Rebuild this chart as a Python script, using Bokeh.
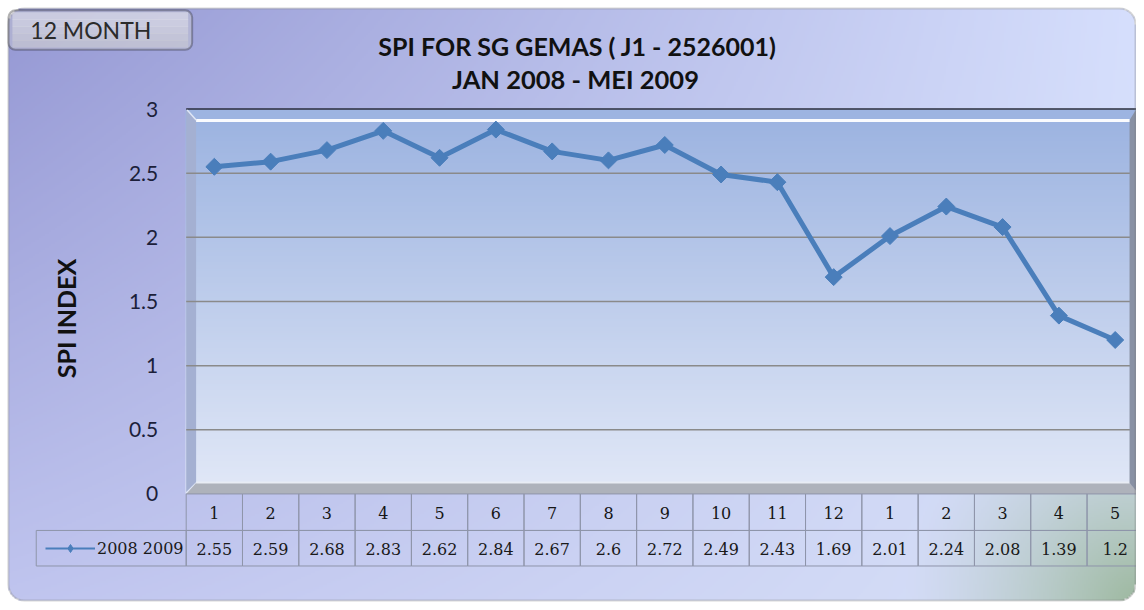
import numpy as np
from bokeh.plotting import figure
from bokeh.models import (Range1d, FixedTicker, BoxAnnotation, Label, Legend,
                          LegendItem, PrintfTickFormatter, ColumnDataSource)
from bokeh.core.properties import value
from bokeh.embed import file_html
from bokeh.resources import INLINE

# ---------------- data ----------------
month_labels = ["1", "2", "3", "4", "5", "6", "7", "8", "9", "10", "11", "12",
                "1", "2", "3", "4", "5"]
spi_values = [2.55, 2.59, 2.68, 2.83, 2.62, 2.84, 2.67, 2.6, 2.72, 2.49, 2.43,
              1.69, 2.01, 2.24, 2.08, 1.39, 1.2]
y_ticks = [0, 0.5, 1, 1.5, 2, 2.5, 3]
grid_ticks = [0.5, 1, 1.5, 2, 2.5]
series_name = "2008 2009"
title_lines = ["SPI FOR SG GEMAS ( J1 - 2526001)", "JAN 2008 - MEI 2009"]
badge_text = "12 MONTH"
y_title = "SPI INDEX"

# ---------------- layout constants (reference pixels) ----------------
W, H = 1136, 602
RW, RH = 1144, 610
SX, SY = W / RW, H / RH
FRAME_L = 187
COL_W = 56.7
Y0 = 500
PPU = 130.0


def X(px):
    return 0.5 + (px - FRAME_L) / COL_W


def Y(py):
    return (Y0 - py) / PPU


xs = list(range(1, len(spi_values) + 1))
LINE_C = "#4a7ebb"

p = figure(width=W, height=H, title=None,
           x_range=Range1d(X(0), X(RW)), y_range=Range1d(Y(RH), Y(0)),
           min_border_left=0, min_border_right=0, min_border_top=0,
           min_border_bottom=0, x_axis_location=None,
           toolbar_location=None, output_backend="svg")
p.outline_line_color = None
p.border_fill_color = "white"
p.background_fill_color = "white"

# ---------------- background colours ----------------
OL, OR_, OT, OB, ORAD = 8, 1143, 8, 608, 16


def bg_rgb(xr, yr):
    u = np.clip(xr / 1144.0, 0, 1)[..., None]
    v = np.clip(yr / 610.0, 0, 1)[..., None]
    TL = np.array([148, 151, 211.0])
    TR = np.array([214, 223, 253.0])
    BL = np.array([192, 197, 239.0])
    BR = np.array([216, 225, 248.0])
    c = (1 - u) * (1 - v) * TL + u * (1 - v) * TR + (1 - u) * v * BL + u * v * BR
    d = np.hypot(xr - 1150.0, yr - 615.0)
    w = (np.clip(1 - d / 240.0, 0, 1) ** 1.3)[..., None]
    green = np.array([155, 183, 156.0])
    return c * (1 - w) + green * w


def plot_rgb(yr):
    t = np.clip((yr - 121.0) / (488.0 - 121.0), 0, 1)[..., None]
    top = np.array([157, 180, 225.0])
    bot = np.array([224, 231, 247.0])
    return top * (1 - t) + bot * t


def inside_round(xr, yr):
    cx = np.clip(xr, OL + ORAD, OR_ - ORAD)
    cy = np.clip(yr, OT + ORAD, OB - ORAD)
    return np.hypot(xr - cx, yr - cy) <= ORAD


STEP = 2
gx = np.arange(0, RW, STEP) + STEP / 2
gy = np.arange(RH, 0, -STEP) - STEP / 2
XX, YY = np.meshgrid(gx, gy)
col = bg_rgb(XX, YY)
inside = (XX >= 187) & (XX <= 1144) & (YY >= 110) & (YY <= 500)
col[inside] = plot_rgb(YY[inside])
col[~inside_round(XX, YY)] = 255
img = np.empty(XX.shape, dtype=np.uint32)
view = img.view(dtype=np.uint8).reshape(XX.shape + (4,))
for k in range(3):
    view[..., k] = col[..., k].astype(np.uint8)
view[..., 3] = 255
p.image_rgba(image=[img], x=X(0), y=Y(RH), dw=X(RW) - X(0),
             dh=Y(0) - Y(RH), level="image")

# ---------------- 3D plot-area frame ----------------
p.patch([X(187), X(197), X(197), X(187)], [Y(110), Y(121), Y(488), Y(498)],
        fill_color="#a4b0d2", line_color=None)

# horizontal gridlines (drawn at the y tick values)
p.segment(x0=[X(187)] * len(grid_ticks), y0=grid_ticks,
          x1=[X(1138)] * len(grid_ticks), y1=grid_ticks,
          line_color="#8a8a8a", line_width=1.5)

p.patch([X(187), X(197), X(1137), X(1144), X(1144), X(187)],
        [Y(500), Y(489), Y(489), Y(496), Y(500), Y(500)],
        fill_color="#aeb2bb", line_color=None)
p.segment(x0=[X(197)], y0=[Y(488.5)], x1=[X(1137)], y1=[Y(488.5)],
          line_color="#e8ecf4", line_width=2)
p.patch([X(1137), X(1144), X(1144), X(1137)], [Y(121), Y(110), Y(497), Y(489)],
        fill_color="#8891a4", line_color=None)
p.segment(x0=[X(187)], y0=[Y(110)], x1=[X(1144)], y1=[Y(110)],
          line_color="#2a2e3c", line_width=1.5)
p.segment(x0=[X(197)], y0=[Y(121.5)], x1=[X(1137)], y1=[Y(121.5)],
          line_color="white", line_width=3, line_alpha=0.95)
p.segment(x0=[X(188)], y0=[Y(111)], x1=[X(197)], y1=[Y(121)],
          line_color="#dfe6f5", line_width=1.5)

# ---------------- axis ----------------
p.ygrid.visible = False
p.xgrid.visible = False

ax = p.yaxis[0]
ax.fixed_location = X(187)
ax.bounds = (Y(534), Y(110))
ax.ticker = FixedTicker(ticks=y_ticks)
ax.formatter = PrintfTickFormatter(format="%g")
ax.axis_line_color = None
ax.major_tick_line_color = None
ax.minor_tick_line_color = None
ax.major_label_standoff = 22
ax.major_label_text_font = "Lato"
ax.major_label_text_font_size = "21px"
ax.major_label_text_color = "#1c1f3a"
ax.axis_label = y_title
ax.axis_label_text_font = "Lato"
ax.axis_label_text_font_style = "bold"
ax.axis_label_text_font_size = "25px"
ax.axis_label_text_color = "#111111"
ax.axis_label_standoff = 45

# ---------------- series ----------------
p.line(x=xs, y=spi_values, line_color=LINE_C, line_width=5)
p.scatter(x=xs, y=spi_values, marker="square", angle=np.pi / 4, size=12,
          fill_color=LINE_C, line_color=LINE_C)

# ---------------- data table ----------------
hdr_y = Y((500 + 537) / 2)
val_y = Y((537 + 573) / 2)
p.rect(x=xs, y=[hdr_y] * len(xs), width=1, height=37 / PPU,
       fill_alpha=0, line_color="#8f95aa", line_width=1)
p.rect(x=xs, y=[val_y] * len(xs), width=1, height=36 / PPU,
       fill_alpha=0, line_color="#8f95aa", line_width=1)
p.text(x=xs, y=[Y(519)] * len(xs), text=month_labels,
       text_font=value("DejaVu Serif"), text_font_size="16px",
       text_align="center", text_baseline="middle", text_color="#161616")
p.text(x=xs, y=[Y(556)] * len(xs), text=[f"{v:g}" for v in spi_values],
       text_font=value("DejaVu Serif"), text_font_size="16px",
       text_align="center", text_baseline="middle", text_color="#1a1a1a")
p.quad(left=[X(36)], right=[X(187)], top=[Y(537)], bottom=[Y(573)],
       fill_alpha=0, line_color="#8f95aa", line_width=1)

proxy = ColumnDataSource(data=dict(x=[np.nan], y=[np.nan]))
leg_line = p.line(x="x", y="y", source=proxy, line_color=LINE_C, line_width=2)
leg_pt = p.scatter(x="x", y="y", source=proxy, marker="diamond",
                   size=11, fill_color=LINE_C, line_color=LINE_C)
legend = Legend(items=[LegendItem(label=series_name, renderers=[leg_line, leg_pt])],
                location=(int(round(45 * SX)), int(round((RH - 565) * SY))),
                glyph_width=50, glyph_height=20,
                padding=0, margin=0, spacing=0, label_standoff=2, label_height=20,
                border_line_color=None, background_fill_alpha=0,
                label_text_font="DejaVu Serif", label_text_font_size="16px",
                label_text_color="#1a1a1a")
p.add_layout(legend)

# ---------------- outer border, badge, titles ----------------
p.add_layout(BoxAnnotation(left=X(OL), right=X(OR_), top=Y(OT), bottom=Y(OB),
                           fill_alpha=0, line_color="#7a7a7a", line_width=2,
                           border_radius=ORAD))
p.add_layout(BoxAnnotation(left=X(8), right=X(193), top=Y(10), bottom=Y(50),
                           fill_color="#d0d0d0", line_color=None, border_radius=7))
for k, fc in enumerate(["#f6f6f6", "#efefef", "#e6e6e6", "#dddddd", "#d2d2d2"]):
    p.add_layout(BoxAnnotation(left=X(12), right=X(189), top=Y(12 + k * 7),
                               bottom=Y(12 + (k + 1) * 7 + 0.5), fill_color=fc,
                               line_color=None))
p.add_layout(BoxAnnotation(left=X(8), right=X(193), top=Y(10), bottom=Y(50),
                           fill_alpha=0, line_color="#141414", line_width=2,
                           border_radius=7))
p.add_layout(Label(x=X(30), y=Y(30), text=badge_text, text_font="Lato",
                   text_font_size="23px", text_color="#2b2b2b",
                   text_baseline="middle"))
p.add_layout(Label(x=X(581), y=Y(46), text=title_lines[0], text_font="Lato",
                   text_font_style="bold", text_font_size="25px",
                   text_color="#111111", text_align="center",
                   text_baseline="middle"))
p.add_layout(Label(x=X(579), y=Y(80), text=title_lines[1], text_font="Lato",
                   text_font_style="bold", text_font_size="25.5px",
                   text_color="#111111", text_align="center",
                   text_baseline="middle"))

open("out.html", "w").write(file_html(p, INLINE))
